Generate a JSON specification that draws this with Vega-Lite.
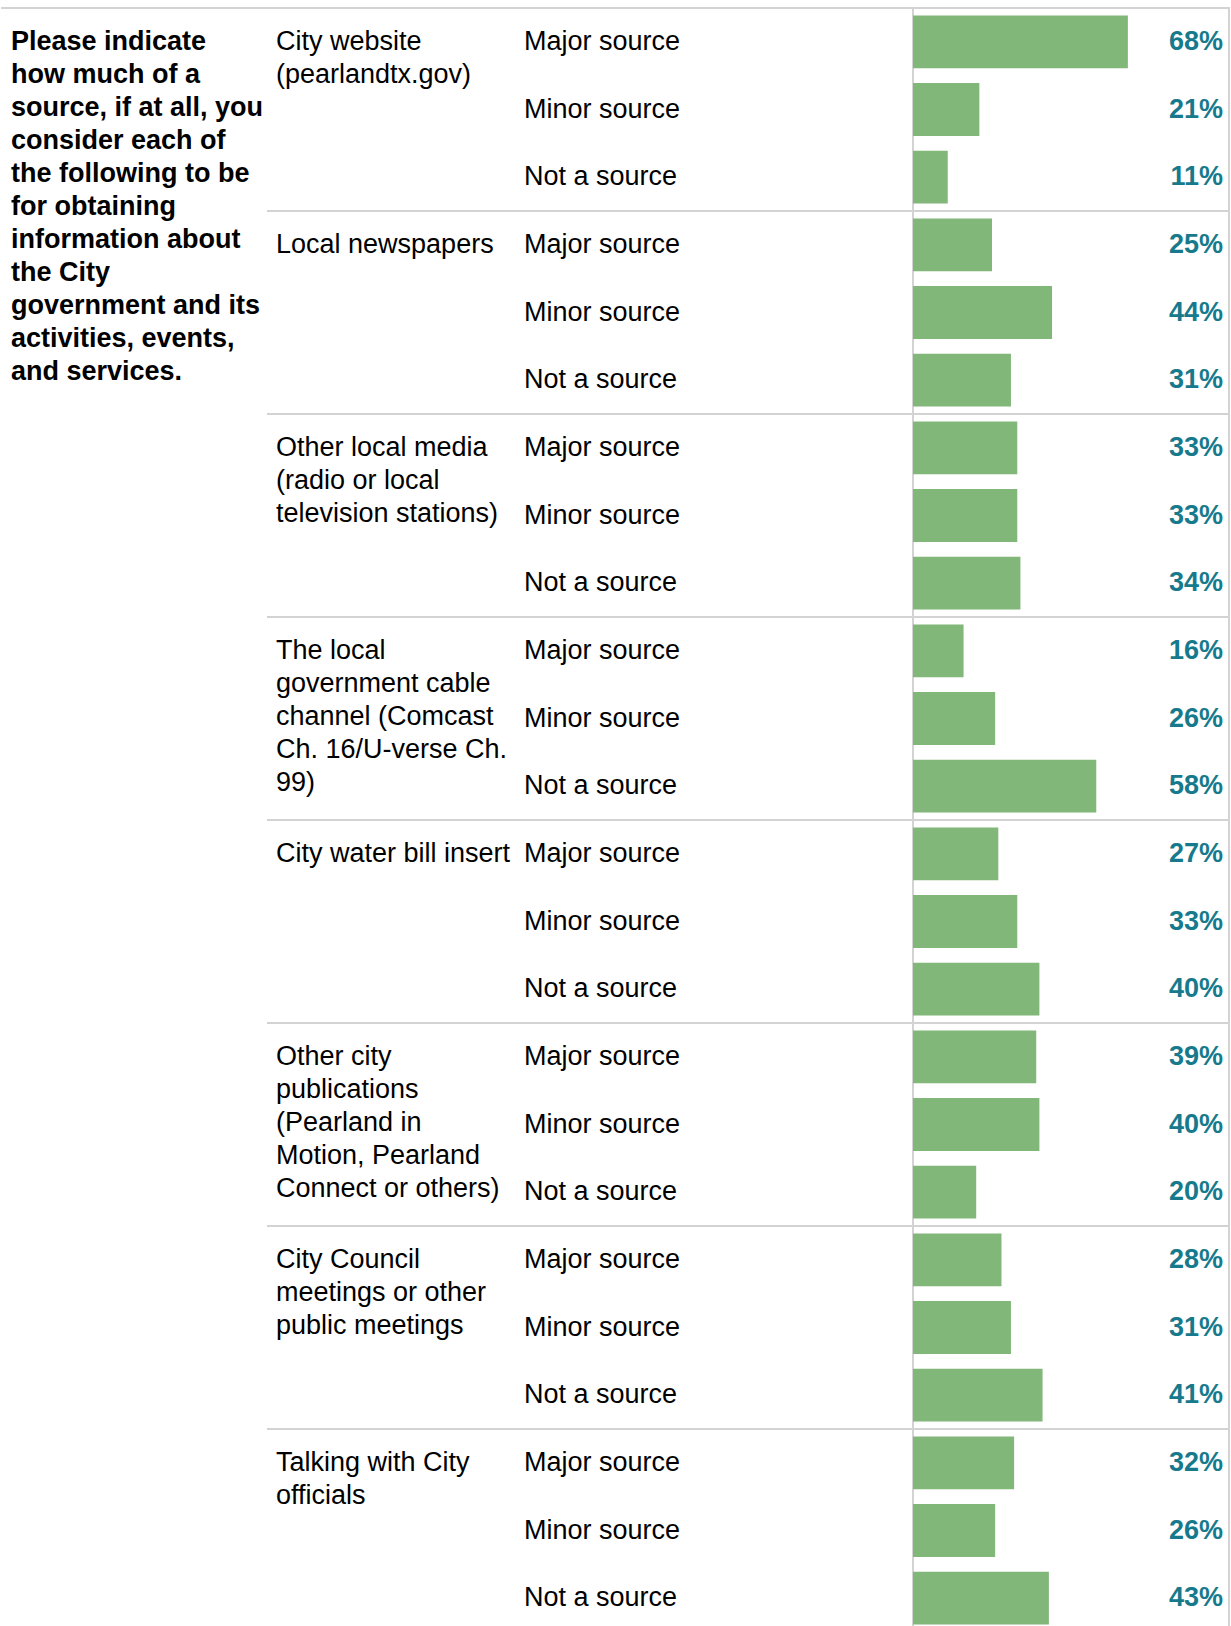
{
  "$schema": "https://vega.github.io/schema/vega-lite/v6.json",
  "padding": {"left": 0, "top": 6, "right": 0, "bottom": 0},
  "autosize": {"type": "pad"},
  "bounds": "flush",
  "background": "white",
  "config": {
    "view": {"stroke": null},
    "concat": {"spacing": 0},
    "text": {"font": "Liberation Sans", "fontSize": 27, "lineHeight": 33, "lineBreak": "\n", "color": "#000000"}
  },
  "datasets": {
    "responses": [
      {"row": 1, "topic": "City website", "response": "Major source", "pct": 0.68},
      {"row": 2, "topic": "City website", "response": "Minor source", "pct": 0.21},
      {"row": 3, "topic": "City website", "response": "Not a source", "pct": 0.11},
      {"row": 4, "topic": "Local newspapers", "response": "Major source", "pct": 0.25},
      {"row": 5, "topic": "Local newspapers", "response": "Minor source", "pct": 0.44},
      {"row": 6, "topic": "Local newspapers", "response": "Not a source", "pct": 0.31},
      {"row": 7, "topic": "Other local media", "response": "Major source", "pct": 0.33},
      {"row": 8, "topic": "Other local media", "response": "Minor source", "pct": 0.33},
      {"row": 9, "topic": "Other local media", "response": "Not a source", "pct": 0.34},
      {"row": 10, "topic": "Cable channel", "response": "Major source", "pct": 0.16},
      {"row": 11, "topic": "Cable channel", "response": "Minor source", "pct": 0.26},
      {"row": 12, "topic": "Cable channel", "response": "Not a source", "pct": 0.58},
      {"row": 13, "topic": "Water bill insert", "response": "Major source", "pct": 0.27},
      {"row": 14, "topic": "Water bill insert", "response": "Minor source", "pct": 0.33},
      {"row": 15, "topic": "Water bill insert", "response": "Not a source", "pct": 0.40},
      {"row": 16, "topic": "Other city publications", "response": "Major source", "pct": 0.39},
      {"row": 17, "topic": "Other city publications", "response": "Minor source", "pct": 0.40},
      {"row": 18, "topic": "Other city publications", "response": "Not a source", "pct": 0.20},
      {"row": 19, "topic": "City Council meetings", "response": "Major source", "pct": 0.28},
      {"row": 20, "topic": "City Council meetings", "response": "Minor source", "pct": 0.31},
      {"row": 21, "topic": "City Council meetings", "response": "Not a source", "pct": 0.41},
      {"row": 22, "topic": "Talking with City officials", "response": "Major source", "pct": 0.32},
      {"row": 23, "topic": "Talking with City officials", "response": "Minor source", "pct": 0.26},
      {"row": 24, "topic": "Talking with City officials", "response": "Not a source", "pct": 0.43}
    ],
    "topics": [
      {"row": 1, "label": "City website\n(pearlandtx.gov)"},
      {"row": 4, "label": "Local newspapers"},
      {"row": 7, "label": "Other local media\n(radio or local\ntelevision stations)"},
      {"row": 10, "label": "The local\ngovernment cable\nchannel (Comcast\nCh. 16/U-verse Ch.\n99)"},
      {"row": 13, "label": "City water bill insert"},
      {"row": 16, "label": "Other city\npublications\n(Pearland in\nMotion, Pearland\nConnect or others)"},
      {"row": 19, "label": "City Council\nmeetings or other\npublic meetings"},
      {"row": 22, "label": "Talking with City\nofficials"}
    ],
    "question": [
      {"row": 1, "label": "Please indicate\nhow much of a\nsource, if at all, you\nconsider each of\nthe following to be\nfor obtaining\ninformation about\nthe City\ngovernment and its\nactivities, events,\nand services."}
    ]
  },
  "resolve": {"scale": {"y": "shared"}},
  "hconcat": [
    {
      "width": 266,
      "height": 1624,
      "data": {"name": "question"},
      "layer": [
        {
          "mark": {"type": "rule", "color": "#d3d3d3", "strokeWidth": 2},
          "encoding": {
            "y": {"field": "row", "type": "ordinal", "bandPosition": 0, "scale": {"paddingInner": 0, "paddingOuter": 0, "domain": [1,2,3,4,5,6,7,8,9,10,11,12,13,14,15,16,17,18,19,20,21,22,23,24]}, "axis": null}
          }
        },
        {
          "mark": {"type": "text", "align": "left", "baseline": "top", "dx": 10, "dy": -13, "fontWeight": "bold"},
          "encoding": {
            "x": {"value": 0},
            "y": {"field": "row", "type": "ordinal", "axis": null},
            "text": {"field": "label", "type": "nominal"}
          }
        }
      ]
    },
    {
      "width": 248,
      "height": 1624,
      "data": {"name": "topics"},
      "layer": [
        {
          "mark": {"type": "rule", "color": "#d3d3d3", "strokeWidth": 2},
          "encoding": {
            "y": {"field": "row", "type": "ordinal", "bandPosition": 0, "axis": null}
          }
        },
        {
          "mark": {"type": "text", "align": "left", "baseline": "top", "dx": 9, "dy": -13},
          "encoding": {
            "x": {"value": 0},
            "y": {"field": "row", "type": "ordinal", "axis": null},
            "text": {"field": "label", "type": "nominal"}
          }
        }
      ]
    },
    {
      "width": 398,
      "height": 1624,
      "layer": [
        {
          "data": {"name": "topics"},
          "mark": {"type": "rule", "color": "#d3d3d3", "strokeWidth": 2},
          "encoding": {
            "y": {"field": "row", "type": "ordinal", "bandPosition": 0, "axis": null}
          }
        },
        {
          "data": {"name": "responses"},
          "mark": {"type": "text", "align": "left", "baseline": "middle", "dx": 9},
          "encoding": {
            "x": {"value": 0},
            "y": {"field": "row", "type": "ordinal", "axis": null},
            "text": {"field": "response", "type": "nominal"}
          }
        }
      ]
    },
    {
      "width": 316,
      "height": 1624,
      "view": {"stroke": "#d3d3d3", "strokeWidth": 2},
      "layer": [
        {
          "data": {"name": "topics"},
          "mark": {"type": "rule", "color": "#d3d3d3", "strokeWidth": 2},
          "encoding": {
            "y": {"field": "row", "type": "ordinal", "bandPosition": 0, "axis": null}
          }
        },
        {
          "data": {"name": "responses"},
          "mark": {"type": "bar", "color": "#82b77a", "height": {"band": 0.78}},
          "encoding": {
            "x": {"field": "pct", "type": "quantitative", "scale": {"domain": [0, 1], "nice": false}, "axis": null},
            "y": {"field": "row", "type": "ordinal", "axis": null}
          }
        },
        {
          "data": {"name": "responses"},
          "mark": {"type": "text", "align": "right", "baseline": "middle", "dx": -6, "fontWeight": "bold", "fontSize": 27, "color": "#177a8c"},
          "encoding": {
            "x": {"value": "width"},
            "y": {"field": "row", "type": "ordinal", "axis": null},
            "text": {"field": "pct", "type": "quantitative", "format": ".0%"}
          }
        }
      ]
    }
  ]
}
